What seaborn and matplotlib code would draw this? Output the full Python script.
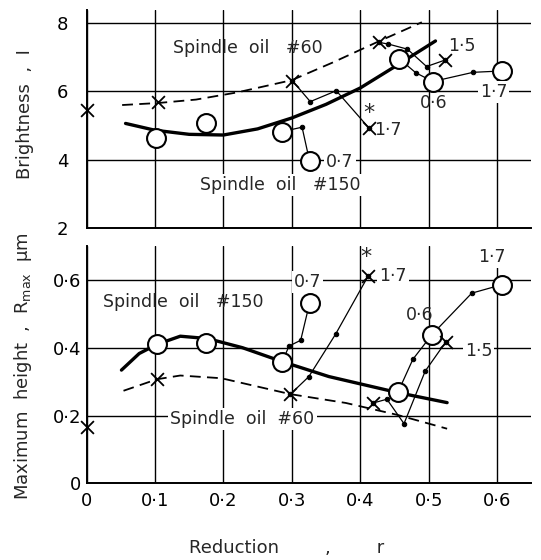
import numpy as np
import pandas as pd
import matplotlib
matplotlib.use("Agg")
import matplotlib.pyplot as plt
import seaborn as sns

# ---------------- Top panel : Brightness I ----------------
top_c150_x = [0.057, 0.10, 0.15, 0.20, 0.25, 0.30, 0.35, 0.40, 0.45, 0.51]
top_c150_y = [5.06, 4.86, 4.74, 4.72, 4.90, 5.22, 5.62, 6.10, 6.72, 7.48]
top_c60_x = [0.052, 0.105, 0.16, 0.22, 0.30, 0.36, 0.425, 0.49]
top_c60_y = [5.60, 5.66, 5.76, 5.97, 6.33, 6.85, 7.45, 8.03]
top_circle_x = [0.102, 0.175, 0.286, 0.326, 0.457, 0.506, 0.607]
top_circle_y = [4.62, 5.08, 4.82, 3.95, 6.96, 6.29, 6.60]
top_cross_x = [0.0, 0.105, 0.301, 0.427, 0.524, 0.413]
top_cross_y = [5.46, 5.68, 6.31, 7.44, 6.92, 4.92]
top_br_a_x = [0.286, 0.315, 0.326]
top_br_a_y = [4.82, 4.95, 3.95]
top_br_b_x = [0.301, 0.327, 0.365, 0.413]
top_br_b_y = [6.31, 5.70, 6.02, 4.92]
top_br_c_x = [0.427, 0.441, 0.469, 0.497, 0.524]
top_br_c_y = [7.44, 7.39, 7.24, 6.73, 6.92]
top_br_d_x = [0.457, 0.481, 0.506, 0.565, 0.607]
top_br_d_y = [6.96, 6.55, 6.29, 6.56, 6.60]

# ---------------- Bottom panel : Maximum height Rmax ----------------
bot_c150_x = [0.051, 0.077, 0.103, 0.137, 0.177, 0.228, 0.286, 0.354, 0.454, 0.527]
bot_c150_y = [0.334, 0.383, 0.410, 0.434, 0.427, 0.400, 0.359, 0.315, 0.268, 0.238]
bot_c60_x = [0.054, 0.103, 0.137, 0.197, 0.298, 0.379, 0.454, 0.527]
bot_c60_y = [0.273, 0.307, 0.318, 0.310, 0.263, 0.237, 0.202, 0.161]
bot_circle_x = [0.103, 0.175, 0.286, 0.326, 0.455, 0.505, 0.607]
bot_circle_y = [0.410, 0.414, 0.359, 0.532, 0.268, 0.439, 0.586]
bot_cross_x = [0.001, 0.103, 0.298, 0.412, 0.525, 0.419]
bot_cross_y = [0.166, 0.307, 0.263, 0.613, 0.417, 0.237]
bot_br_a_x = [0.286, 0.296, 0.313, 0.326]
bot_br_a_y = [0.359, 0.405, 0.422, 0.532]
bot_br_b_x = [0.298, 0.325, 0.364, 0.412]
bot_br_b_y = [0.263, 0.315, 0.440, 0.613]
bot_br_c_x = [0.419, 0.439, 0.464, 0.495, 0.525]
bot_br_c_y = [0.237, 0.248, 0.176, 0.331, 0.417]
bot_br_d_x = [0.455, 0.477, 0.505, 0.563, 0.607]
bot_br_d_y = [0.268, 0.366, 0.439, 0.561, 0.586]

x_ticks = [0, 0.1, 0.2, 0.3, 0.4, 0.5, 0.6]
x_ticklabels = ["0", "0·1", "0·2", "0·3", "0·4", "0·5", "0·6"]
top_yticks = [2, 4, 6, 8]
top_yticklabels = ["2", "4", "6", "8"]
bot_yticks = [0, 0.2, 0.4, 0.6]
bot_yticklabels = ["0", "0·2", "0·4", "0·6"]

sns.set_style("white")
plt.rcParams["font.family"] = ["DejaVu Sans"]

fig = plt.figure(figsize=(5.41, 5.60), dpi=100)
ax1 = fig.add_axes([0.160, 0.5934, 0.822, 0.3894])
ax2 = fig.add_axes([0.160, 0.137, 0.822, 0.4236])

K = "black"


def df(x, y):
    return pd.DataFrame({"x": x, "y": y})


def style_axes(ax, ylim, yticks, yticklabels, show_x):
    ax.set_xlim(0, 0.65)
    ax.set_ylim(*ylim)
    ax.set_xticks(x_ticks)
    ax.set_yticks(yticks)
    ax.set_yticklabels(yticklabels)
    if show_x:
        ax.set_xticklabels(x_ticklabels)
    else:
        ax.set_xticklabels([])
    ax.grid(True, color=K, linewidth=1.0)
    ax.set_axisbelow(True)
    for s in ["top", "right"]:
        ax.spines[s].set_visible(False)
    for s in ["left", "bottom"]:
        ax.spines[s].set_color(K)
        ax.spines[s].set_linewidth(1.4)
    ax.tick_params(length=0, labelsize=13, colors=K)
    ax.set_xlabel("")
    ax.set_ylabel("")


def draw_panel(ax, c150x, c150y, c60x, c60y, cirx, ciry, crx, cry, branches):
    sns.lineplot(data=df(c150x, c150y), x="x", y="y", ax=ax, sort=False,
                 estimator=None, color=K, linewidth=2.4, zorder=3)
    sns.lineplot(data=df(c60x, c60y), x="x", y="y", ax=ax, sort=False,
                 estimator=None, color=K, linewidth=1.3,
                 linestyle=(0, (6, 3.5)), zorder=3)
    for bx, by in branches:
        sns.lineplot(data=df(bx, by), x="x", y="y", ax=ax, sort=False,
                     estimator=None, color=K, linewidth=0.9, marker="o",
                     markersize=3.2, markeredgecolor=K, markerfacecolor=K,
                     zorder=4)
    sns.scatterplot(data=df(cirx, ciry), x="x", y="y", ax=ax, marker="o",
                    s=185, facecolor="white", edgecolor=K, linewidth=1.5,
                    zorder=6, clip_on=False)
    sns.scatterplot(data=df(crx, cry), x="x", y="y", ax=ax, marker="x",
                    s=85, color=K, linewidth=1.3, zorder=6, clip_on=False)


draw_panel(ax1, top_c150_x, top_c150_y, top_c60_x, top_c60_y,
           top_circle_x, top_circle_y, top_cross_x, top_cross_y,
           [(top_br_a_x, top_br_a_y), (top_br_b_x, top_br_b_y),
            (top_br_c_x, top_br_c_y), (top_br_d_x, top_br_d_y)])
draw_panel(ax2, bot_c150_x, bot_c150_y, bot_c60_x, bot_c60_y,
           bot_circle_x, bot_circle_y, bot_cross_x, bot_cross_y,
           [(bot_br_a_x, bot_br_a_y), (bot_br_b_x, bot_br_b_y),
            (bot_br_c_x, bot_br_c_y), (bot_br_d_x, bot_br_d_y)])

style_axes(ax1, (2, 8.4), top_yticks, top_yticklabels, False)
style_axes(ax2, (0, 0.70), bot_yticks, bot_yticklabels, True)
ax1.tick_params(axis="y", pad=13)
ax2.tick_params(axis="y", pad=4)
ax2.tick_params(axis="x", pad=6)

wb = dict(facecolor="white", edgecolor="none", pad=1.5)
fs = 12.5
# top annotations
ax1.text(0.235, 7.27, "Spindle  oil   #60", fontsize=fs, ha="center", va="center", zorder=7)
ax1.text(0.283, 3.25, "Spindle  oil   #150", fontsize=fs, ha="center", va="center", bbox=wb, zorder=7)
ax1.text(0.529, 7.32, "1·5", fontsize=fs, ha="left", va="center", zorder=7)
ax1.text(0.421, 4.87, "1·7", fontsize=fs, ha="left", va="center", zorder=7)
ax1.text(0.412, 5.38, "*", fontsize=16, ha="center", va="center", zorder=7)
ax1.text(0.350, 3.92, "0·7", fontsize=fs, ha="left", va="center", bbox=wb, zorder=7)
ax1.text(0.507, 5.65, "0·6", fontsize=fs, ha="center", va="center", zorder=7)
ax1.text(0.595, 5.98, "1·7", fontsize=fs, ha="center", va="center", bbox=wb, zorder=7)
# bottom annotations
ax2.text(0.142, 0.535, "Spindle  oil   #150", fontsize=fs, ha="center", va="center", zorder=7)
ax2.text(0.228, 0.190, "Spindle  oil  #60", fontsize=fs, ha="center", va="center", bbox=wb, zorder=7)
ax2.text(0.323, 0.593, "0·7", fontsize=fs, ha="center", va="center", bbox=wb, zorder=7)
ax2.text(0.428, 0.613, "1·7", fontsize=fs, ha="left", va="center", bbox=wb, zorder=7)
ax2.text(0.409, 0.667, "*", fontsize=16, ha="center", va="center", zorder=7)
ax2.text(0.593, 0.667, "1·7", fontsize=fs, ha="center", va="center", bbox=wb, zorder=7)
ax2.text(0.487, 0.496, "0·6", fontsize=fs, ha="center", va="center", zorder=7)
ax2.text(0.553, 0.390, "1·5", fontsize=fs, ha="left", va="center", bbox=wb, zorder=7)

ax1.set_ylabel("Brightness  ,  I", fontsize=13)
ax1.yaxis.set_label_coords(-0.118, 0.52)
ax2.set_ylabel("Maximum  height  ,  R$_{\\rm max}$  μm", fontsize=13)
ax2.yaxis.set_label_coords(-0.118, 0.495)
ax2.set_xlabel("Reduction        ,        r", fontsize=13)
ax2.xaxis.set_label_coords(0.45, -0.235)

fig.savefig("out.png", dpi=100, facecolor="white")
